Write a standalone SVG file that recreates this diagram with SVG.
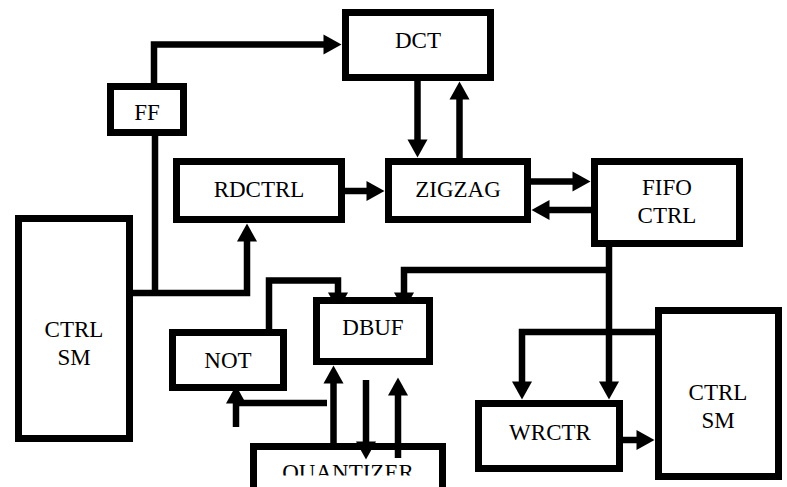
<svg xmlns="http://www.w3.org/2000/svg" width="787" height="487" viewBox="0 0 787 487">
<style>
.box{fill:#fff;stroke:#000;stroke-width:7}
.lbl{font-family:'Liberation Serif','Times New Roman',serif;font-size:23px;fill:#000;text-anchor:middle}
.wire{fill:none;stroke:#000;stroke-width:6.5;stroke-linejoin:miter;stroke-linecap:butt}
.arr{marker-end:url(#ah)}
</style>
<defs>
<marker id="ah" markerUnits="userSpaceOnUse" markerWidth="19" markerHeight="20" refX="0.5" refY="10" orient="auto" overflow="visible">
<path d="M0,0 L18,10 L0,20 z" fill="#000"/>
</marker>
<clipPath id="qclip"><rect x="240" y="440" width="220" height="35.5"/></clipPath>
</defs>
<rect width="787" height="487" fill="#fff"/>

<g id="quantizer">
<rect class="box" x="253.5" y="446.5" width="189" height="60"/>
<text class="lbl" x="348" y="480" clip-path="url(#qclip)">QUANTIZER</text>
</g>

<g id="connectors">
<path class="wire arr" d="M154,86 V44.5 H324"/>
<path class="wire" d="M155,134 V296"/>
<path class="wire arr" d="M131,293 H247 V241"/>
<path class="wire arr" d="M417.5,79 V140"/>
<path class="wire arr" d="M459.5,160 V99"/>
<path class="wire arr" d="M343,191 H367"/>
<path class="wire arr" d="M529,181.5 H573"/>
<path class="wire arr" d="M593,210 H549"/>
<path class="wire arr" d="M609,245 V382"/>
<path class="wire arr" d="M609,270 H404 V293"/>
<path class="wire arr" d="M269,331 V280.5 H338 V293"/>
<path class="wire arr" d="M333.5,445 V383"/>
<path class="wire arr" d="M366,380 V442"/>
<path class="wire arr" d="M398,458 V395"/>
<path class="wire" d="M327,403 H233"/>
<path class="wire arr" d="M236,427 V403"/>
<path class="wire arr" d="M657,332 H522 V382"/>
<path class="wire arr" d="M621,440 H637"/>
</g>

<g id="ff">
<rect class="box" x="110.5" y="86.5" width="73" height="46"/>
<text class="lbl" x="147" y="120">FF</text>
</g>
<g id="dct">
<rect class="box" x="345.5" y="12.5" width="145" height="65"/>
<text class="lbl" x="418" y="48">DCT</text>
</g>
<g id="rdctrl">
<rect class="box" x="176.5" y="161.5" width="165" height="58"/>
<text class="lbl" x="259" y="197">RDCTRL</text>
</g>
<g id="zigzag">
<rect class="box" x="388.5" y="161.5" width="139" height="58"/>
<text class="lbl" x="458" y="197">ZIGZAG</text>
</g>
<g id="fifoctrl">
<rect class="box" x="594.5" y="161.5" width="145" height="82"/>
<text class="lbl" x="667" y="195">FIFO</text>
<text class="lbl" x="667" y="223">CTRL</text>
</g>
<g id="ctrlsm-left">
<rect class="box" x="18.5" y="218.5" width="111" height="220"/>
<text class="lbl" x="74" y="337">CTRL</text>
<text class="lbl" x="74" y="365">SM</text>
</g>
<g id="not">
<rect class="box" x="172.5" y="332.5" width="111" height="55"/>
<text class="lbl" x="228" y="368">NOT</text>
</g>
<g id="dbuf">
<rect class="box" x="316.5" y="300.5" width="113" height="61"/>
<text class="lbl" x="373" y="335">DBUF</text>
</g>
<g id="wrctr">
<rect class="box" x="478.5" y="403.5" width="141" height="65"/>
<text class="lbl" x="550" y="440">WRCTR</text>
</g>
<g id="ctrlsm-right">
<rect class="box" x="658.5" y="310.5" width="120" height="166"/>
<text class="lbl" x="718" y="400">CTRL</text>
<text class="lbl" x="718" y="428">SM</text>
</g>
</svg>
